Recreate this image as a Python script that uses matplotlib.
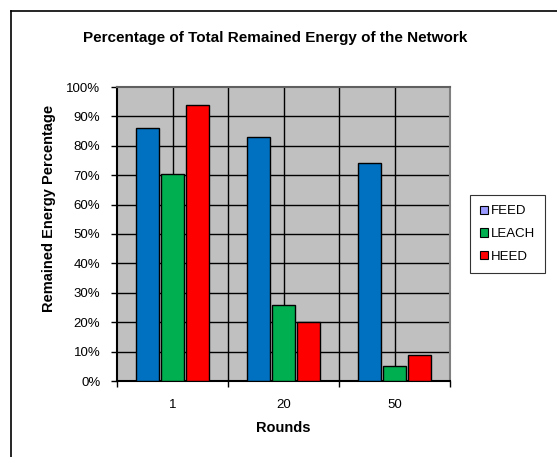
import numpy as np
import matplotlib.pyplot as plt
from matplotlib.patches import Patch

plt.rcParams['font.family'] = ['Liberation Sans', 'DejaVu Sans']

rounds = ['1', '20', '50']
feed = [86, 83, 74]
leach = [70.5, 26, 5]
heed = [94, 20, 9]

series = [('FEED', feed, '#0070C0'), ('LEACH', leach, '#00B050'), ('HEED', heed, '#FF0000')]
legend_colors = ['#9999FF', '#00B050', '#FF0000']

fig = plt.figure(figsize=(5.57, 4.57), dpi=100)
W, H = 557, 457
ax = fig.add_axes([117 / W, 1 - 381 / H, 333 / W, 294 / H])
ax.set_facecolor('#C0C0C0')

x = np.arange(len(rounds))
width = 0.21
offs = [-0.225, 0.0, 0.225]
for (name, vals, col), off in zip(series, offs):
    ax.bar(x + off, vals, width, color=col, edgecolor='black', linewidth=1, zorder=3)

ax.set_xlim(-0.5, 2.5)
ax.set_ylim(0, 100)
ax.set_yticks(np.arange(0, 101, 10))
ax.set_yticklabels([f'{v}%' for v in range(0, 101, 10)], fontsize=9.5)
ax.set_xticks([-0.5, 0.5, 1.5, 2.5])
ax.set_xticklabels([])
ax.set_xticks(x, minor=True)
ax.set_xticklabels(rounds, minor=True, fontsize=9.5)
ax.tick_params(axis='x', which='minor', length=0, pad=13)
ax.tick_params(axis='x', which='major', length=4, direction='out', width=1)
ax.tick_params(axis='y', length=4, direction='out', width=1, pad=8)

for yv in range(10, 100, 10):
    ax.axhline(yv, color='black', linewidth=1, zorder=1)
for xv in [0, 0.5, 1, 1.5, 2]:
    ax.axvline(xv, color='black', linewidth=1, zorder=1)

ax.spines['left'].set_linewidth(1.5)
ax.spines['bottom'].set_linewidth(1.5)
ax.spines['top'].set_color('#606060')
ax.spines['right'].set_color('#808080')
ax.spines['top'].set_linewidth(1.5)
ax.spines['right'].set_linewidth(1.5)

ax.set_xlabel('Rounds', fontsize=10.5, fontweight='bold', labelpad=7)
ax.set_ylabel('Remained Energy Percentage', fontsize=10.5, fontweight='bold')
ax.yaxis.set_label_coords((56 - 117) / 333, (381 - 208) / 294)

fig.text(275 / W, 1 - 38 / H, 'Percentage of Total Remained Energy of the Network',
         ha='center', va='center', fontsize=11, fontweight='bold')

handles = [Patch(facecolor=c, edgecolor='black', linewidth=0.8, label=n)
           for (n, _, _), c in zip(series, legend_colors)]
leg = fig.legend(handles=handles, loc='center', bbox_to_anchor=(507.5 / W, 1 - 234 / H),
                 fontsize=9.5, frameon=True, fancybox=False, edgecolor='black',
                 handlelength=0.6, handleheight=0.6, handletextpad=0.2,
                 labelspacing=0.8, borderpad=0.8)
leg.get_frame().set_linewidth(0.8)

# outer chart border (left and top visible)
fig.add_artist(plt.Line2D([11 / W, 11 / W], [0, 1 - 11 / H], color='black', linewidth=1.2,
                          transform=fig.transFigure))
fig.add_artist(plt.Line2D([11 / W, 1], [1 - 11 / H, 1 - 11 / H], color='black', linewidth=1.2,
                          transform=fig.transFigure))

fig.savefig('out.png', dpi=100)
